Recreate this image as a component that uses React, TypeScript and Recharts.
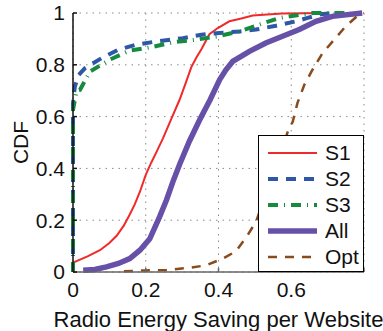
import React from 'react';
import { LineChart, Line, XAxis, YAxis, CartesianGrid, Legend, Label } from 'recharts';

type Pt = [number, number];

const seriesNames = ['S1', 'S2', 'S3', 'All', 'Opt'];

const s1Values: Pt[] = [
  [0, 0.03], [0.005, 0.039], [0.04, 0.06], [0.074, 0.084], [0.1, 0.112], [0.12, 0.14],
  [0.14, 0.18], [0.156, 0.222], [0.17, 0.262], [0.184, 0.31], [0.2, 0.375], [0.215, 0.422],
  [0.229, 0.462], [0.247, 0.515], [0.27, 0.59], [0.293, 0.665], [0.31, 0.73], [0.325, 0.79],
  [0.34, 0.83], [0.353, 0.86], [0.375, 0.918], [0.398, 0.942], [0.43, 0.968], [0.46, 0.978],
  [0.494, 0.99], [0.575, 0.998], [0.7, 1],
];

const s2Values: Pt[] = [
  [0, 0], [0, 0.65], [0.005, 0.716], [0.015, 0.76], [0.033, 0.787], [0.079, 0.826],
  [0.124, 0.858], [0.174, 0.878], [0.229, 0.89], [0.302, 0.903], [0.353, 0.916],
  [0.403, 0.923], [0.458, 0.929], [0.503, 0.936], [0.558, 0.951], [0.613, 0.968],
  [0.645, 0.981], [0.68, 0.995], [0.72, 1],
];

const s3Values: Pt[] = [
  [0, 0], [0, 0.626], [0.01, 0.7], [0.019, 0.703], [0.047, 0.774], [0.101, 0.82],
  [0.156, 0.855], [0.216, 0.868], [0.275, 0.887], [0.339, 0.897], [0.398, 0.91],
  [0.458, 0.929], [0.512, 0.955], [0.567, 0.981], [0.63, 0.994], [0.66, 1], [0.75, 1],
];

const allValues: Pt[] = [
  [0.028, 0.007], [0.06, 0.01], [0.092, 0.02], [0.125, 0.033], [0.156, 0.052], [0.184, 0.084],
  [0.211, 0.128], [0.238, 0.213], [0.257, 0.278], [0.275, 0.35], [0.293, 0.415],
  [0.32, 0.505], [0.348, 0.587], [0.377, 0.665], [0.403, 0.742], [0.42, 0.78],
  [0.439, 0.813], [0.485, 0.852], [0.53, 0.884], [0.576, 0.91], [0.622, 0.936],
  [0.668, 0.968], [0.713, 0.987], [0.795, 1],
];

const optValues: Pt[] = [
  [0.14, 0.003], [0.2, 0.006], [0.257, 0.008], [0.32, 0.016], [0.366, 0.026], [0.412, 0.052],
  [0.448, 0.08], [0.48, 0.142], [0.503, 0.194], [0.52, 0.26], [0.55, 0.38], [0.575, 0.48],
  [0.59, 0.54], [0.604, 0.58], [0.617, 0.652], [0.636, 0.723], [0.658, 0.78],
  [0.686, 0.845], [0.718, 0.897], [0.75, 0.949], [0.786, 0.994], [0.8, 1],
];

const xTicks = [0, 0.2, 0.4, 0.6, 0.8];
const yTicks = [0, 0.2, 0.4, 0.6, 0.8, 1];

const seriesValues = [s1Values, s2Values, s3Values, allValues, optValues];

const styles = [
  { color: '#f02a2a', width: 2, dash: undefined as string | undefined },
  { color: '#2f57a8', width: 4, dash: '10 8' },
  { color: '#168a3e', width: 4, dash: '10 6 1 6' },
  { color: '#6650a8', width: 5.5, dash: undefined as string | undefined },
  { color: '#8a4b1c', width: 2.5, dash: '9 8' },
];

const FONT = '"Liberation Sans", Arial, Helvetica, sans-serif';

const toObjs = (v: Pt[]) => v.map(([x, y]) => ({ x, y }));

const LegendBox = () => (
  <div
    style={{
      width: 106,
      height: 137,
      boxSizing: 'border-box',
      border: '1.5px solid #000',
      background: '#fff',
      paddingTop: 4,
      fontFamily: FONT,
      fontSize: 21,
      color: '#111',
    }}
  >
    {seriesNames.map((n, i) => (
      <div key={n} style={{ height: 26, display: 'flex', alignItems: 'center' }}>
        <svg width={66} height={26} style={{ flex: 'none' }}>
          <line
            x1={9}
            x2={58}
            y1={13}
            y2={13}
            stroke={styles[i].color}
            strokeWidth={styles[i].width}
            strokeDasharray={styles[i].dash}
          />
        </svg>
        <span style={{ lineHeight: '26px' }}>{n}</span>
      </div>
    ))}
  </div>
);

export default function App() {
  return (
    <div style={{ position: 'fixed', left: 0, top: 0, background: '#fff' }}>
      <LineChart
        width={383}
        height={331}
        margin={{ top: 13, right: 19, bottom: 0, left: 0 }}
        style={{ fontFamily: FONT }}
      >
        <CartesianGrid stroke="#8a8a8a" strokeDasharray="1.5 5" />
        <XAxis
          type="number"
          dataKey="x"
          domain={[0, 0.8]}
          ticks={xTicks}
          tickFormatter={(v: number) => (v === 0.8 ? '' : String(v))}
          height={59}
          tickSize={-4}
          tickMargin={14}
          stroke="#666"
          strokeWidth={1.5}
          tick={{ fill: '#111', fontSize: 21, fontFamily: FONT }}
        >
          <Label
            value="Radio Energy Saving per Website"
            position="insideBottom"
            offset={4}
            style={{ fill: '#111', fontSize: 22, fontFamily: FONT }}
          />
        </XAxis>
        <YAxis
          type="number"
          dataKey="y"
          domain={[0, 1]}
          ticks={yTicks}
          width={73}
          tickSize={-4}
          tickMargin={12}
          stroke="#111"
          strokeWidth={1.5}
          tick={{ fill: '#111', fontSize: 21, fontFamily: FONT }}
        >
          <Label
            content={(props: any) => {
              const vb = props.viewBox || {};
              const cx = (vb.x ?? 0) + 28;
              const cy = (vb.y ?? 0) + (vb.height ?? 0) / 2;
              return (
                <text
                  x={cx}
                  y={cy}
                  transform={`rotate(-90 ${cx} ${cy})`}
                  textAnchor="middle"
                  style={{ fill: '#111', fontSize: 21, fontFamily: FONT }}
                >
                  CDF
                </text>
              );
            }}
          />
        </YAxis>
        {seriesValues.map((vals, i) => (
          <Line
            key={seriesNames[i]}
            name={seriesNames[i]}
            data={toObjs(vals)}
            dataKey="y"
            type="linear"
            stroke={styles[i].color}
            strokeWidth={styles[i].width}
            strokeDasharray={styles[i].dash}
            dot={false}
            activeDot={false}
            isAnimationActive={false}
          />
        ))}
        <Legend
          layout="vertical"
          align="center"
          verticalAlign="middle"
          content={() => <LegendBox />}
          wrapperStyle={{ left: 258, top: 135, width: 106, height: 137 }}
        />
      </LineChart>
    </div>
  );
}
